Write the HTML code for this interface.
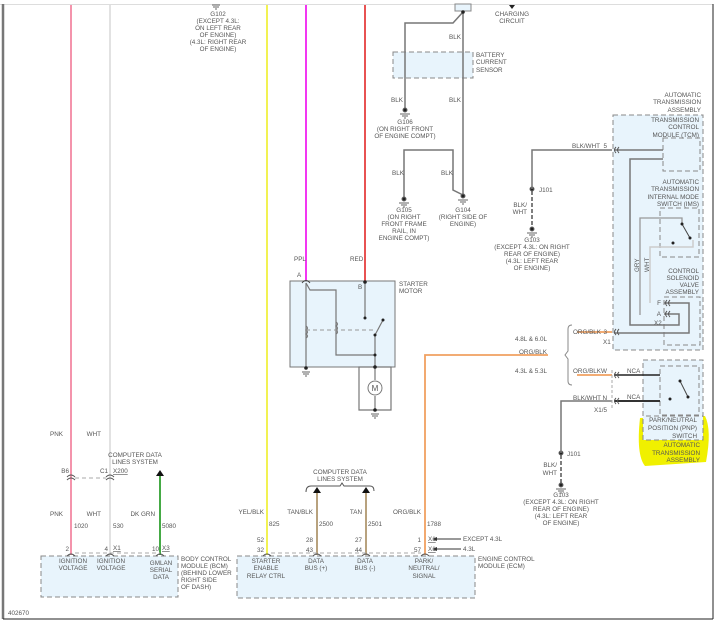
<!DOCTYPE html>
<html><head><meta charset="utf-8"><style>
html,body{margin:0;padding:0;background:#fff}
svg{display:block}
text{font-family:"Liberation Sans",sans-serif;font-size:6.3px;fill:#555}
.m{text-anchor:middle}.e{text-anchor:end}
.box{fill:#e8f4fc;stroke:#888;stroke-width:1;stroke-dasharray:5,3}
.w{fill:none;stroke:#777;stroke-width:1.5}
.d{fill:#222}
</style></head><body>
<svg width="721" height="623" viewBox="0 0 721 623" xmlns="http://www.w3.org/2000/svg">
<!-- frame -->
<line x1="0" y1="4.5" x2="713" y2="4.5" stroke="#ddd" stroke-width="1"/>
<line x1="3" y1="4" x2="3" y2="619" stroke="#777" stroke-width="2.5"/>
<line x1="3" y1="619" x2="713" y2="619" stroke="#222" stroke-width="1"/>
<line x1="713" y1="4" x2="713" y2="619" stroke="#222" stroke-width="1"/>

<!-- boxes -->
<rect class="box" x="393" y="52" width="80" height="26"/>
<rect x="290" y="281" width="105" height="86" fill="#e8f4fc" stroke="#777"/>
<rect class="box" x="613" y="115" width="90" height="235"/>
<rect class="box" x="663" y="138" width="37" height="33"/>
<rect class="box" x="660" y="208" width="39" height="49"/>
<rect class="box" x="664" y="297" width="36" height="48"/>
<path d="M640,418 L705,416 Q712,430 706,462 L645,466 Q636,455 640,418Z" fill="#f0f000"/>
<rect class="box" x="643" y="360" width="60" height="80" fill="none"/>
<rect class="box" x="643" y="360" width="60" height="56" />
<rect class="box" x="660" y="366" width="39" height="49"/>
<rect class="box" x="41" y="556" width="137" height="41"/>
<rect class="box" x="237" y="556" width="238" height="42"/>

<!-- long colored wires -->
<line x1="71" y1="5" x2="71" y2="555" stroke="#f07090" stroke-width="1.5"/>
<line x1="110" y1="5" x2="110" y2="555" stroke="#d8d8d8" stroke-width="1.5"/>
<line x1="267" y1="5" x2="267" y2="555" stroke="#f0f040" stroke-width="1.8"/>
<line x1="306" y1="5" x2="306" y2="281" stroke="#f020f0" stroke-width="1.8"/>
<line x1="365" y1="5" x2="365" y2="281" stroke="#e01818" stroke-width="1.5"/>
<line x1="160" y1="476" x2="160" y2="555" stroke="#30a030" stroke-width="1.8"/>
<line x1="317" y1="492" x2="317" y2="555" stroke="#b09870" stroke-width="1.8"/>
<line x1="366" y1="492" x2="366" y2="555" stroke="#b09870" stroke-width="1.8"/>
<path d="M548,355 H425 V555" fill="none" stroke="#f0a060" stroke-width="1.8"/>
<line x1="577" y1="332" x2="612" y2="332" stroke="#f0a060" stroke-width="1.8"/>
<line x1="577" y1="375" x2="612" y2="375" stroke="#f0a060" stroke-width="1.8"/>
<path d="M572,325 q-4,0 -4,4 v22 l-3,4 l3,4 v22 q0,4 4,4" fill="none" stroke="#888"/>

<!-- G102 -->
<path d="M212,5 h8 M213,7 h6 M215,9 h2" stroke="#666"/>

<!-- top grounds -->
<rect x="455" y="4" width="16" height="7" fill="#e8f4fc" stroke="#888"/>
<path class="w" d="M463,12 V195"/>
<path class="w" d="M463,12 L453,23 H405 V110"/>
<path class="w" d="M404,200 V150 H453 V190 L463,195"/>
<circle class="d" cx="463" cy="12" r="1.8"/>
<path d="M509,5 h6 l-3,4z" fill="#222"/>
<g fill="#222" stroke="#666">
<circle cx="405" cy="110" r="2"/><path d="M400,114h10M402,116h6M404,118h2" fill="none"/>
<circle cx="404" cy="199" r="2"/><path d="M399,203h10M401,205h6M403,207h2" fill="none"/>
<circle cx="463" cy="196" r="2"/><path d="M458,200h10M460,202h6M462,204h2" fill="none"/>
<circle cx="532" cy="189" r="2"/>
<circle cx="532" cy="229" r="2"/><path d="M527,233h10M529,235h6M531,237h2" fill="none"/>
<circle cx="561" cy="453" r="2"/>
<circle cx="561" cy="485" r="2"/><path d="M556,489h10M558,491h6M560,493h2" fill="none"/>
</g>
<path class="w" d="M532,189 V150 H612"/>
<line x1="532" y1="191" x2="532" y2="227" stroke="#555" stroke-width="1.5" stroke-dasharray="4,2"/>
<path class="w" d="M561,453 V401 H612"/>
<line x1="561" y1="455" x2="561" y2="483" stroke="#555" stroke-width="1.5" stroke-dasharray="4,2"/>
<line x1="612" y1="370" x2="612" y2="410" stroke="#aaa" stroke-dasharray="3,2"/>

<!-- transmission internals -->
<path class="w" d="M614,150 H663"/>
<path class="w" d="M663,159 H630 V325 H679 V314 H664"/>
<path class="w" d="M614,333 H689 V303 H664" />
<path d="M640,315 V218 H682 V224" fill="none" stroke="#999" stroke-width="1.3"/>
<path d="M650,303 V247 H693 V240" fill="none" stroke="#ccc" stroke-width="1.5"/>
<path d="M682,224 L690,238" stroke="#444"/>
<circle class="d" cx="682" cy="224" r="1.5"/><circle class="d" cx="690" cy="238" r="1.5"/><circle class="d" cx="673" cy="243" r="1.5"/>
<path d="M614,375 H660" stroke="#222" stroke-width="1.5"/>
<path d="M614,401 H660" stroke="#333" stroke-width="2"/>
<path d="M680,381 L688,397" stroke="#444"/>
<circle class="d" cx="680" cy="381" r="1.5"/><circle class="d" cx="688" cy="397" r="1.5"/><circle class="d" cx="670" cy="399" r="1.5"/>
<g fill="none" stroke="#555">
<path d="M616,147 q-3,3 0,6 M619,147 q-3,3 0,6"/>
<path d="M616,329 q-3,3 0,6 M619,329 q-3,3 0,6"/>
<path d="M616,372 q-3,3 0,6 M619,372 q-3,3 0,6"/>
<path d="M616,398 q-3,3 0,6 M619,398 q-3,3 0,6"/>
<path d="M667,300 q-3,3 0,6 M670,300 q-3,3 0,6"/>
<path d="M667,311 q-3,3 0,6 M670,311 q-3,3 0,6"/>
</g>

<!-- starter motor -->
<g fill="none" stroke="#777" stroke-width="1.2">
<path d="M306,283 L310,290 H336 V355 H375"/>
<path d="M306,283 V368"/>
<path d="M365,283 V318"/>
<path d="M375,335 L383,320"/>
<path d="M375,335 V367 V380 M375,396 V410"/>
<path d="M375,367 H359 V410 H391 V367 H375"/>
<path d="M306,326 q3,2 0,4 q3,2 0,4 q3,2 0,4" />
<path d="M336,322 q3,2 0,4 q3,2 0,4 q3,2 0,4" />
</g>
<line x1="306" y1="330" x2="375" y2="330" stroke="#999" stroke-dasharray="4,3"/>
<circle cx="375" cy="388" r="7" fill="#fff" stroke="#777"/>
<text x="375" y="391" class="m" style="font-size:8px">M</text>
<g class="d"><circle cx="365" cy="282" r="1.8"/><circle cx="365" cy="318" r="1.5"/><circle cx="383" cy="320" r="1.5"/><circle cx="375" cy="335" r="1.5"/><circle cx="375" cy="355" r="1.5"/><circle cx="375" cy="367" r="1.8"/><circle cx="306" cy="368" r="1.8"/><circle cx="375" cy="410" r="1.8"/></g>
<path d="M302,372h8M303,374h6M305,376h2M371,414h8M372,416h6M374,418h2" stroke="#666"/>
<path d="M302,283 q4,-5 8,0" fill="none" stroke="#444"/>

<!-- connectors bottom -->
<g fill="none" stroke="#555">
<path d="M67,477 q4,-4 8,0 M67,480 q4,-4 8,0"/>
<path d="M106,477 q4,-4 8,0 M106,480 q4,-4 8,0"/>
<path d="M67,556 q4,-4 8,0 M106,556 q4,-4 8,0 M156,556 q4,-4 8,0 M263,556 q4,-4 8,0 M313,556 q4,-4 8,0 M362,556 q4,-4 8,0 M421,556 q4,-4 8,0"/>
<path d="M306,492 q0,-6 5,-6 H340 l2,-3 l2,3 H370 q4,0 4,5"/>
</g>
<line x1="75" y1="478" x2="106" y2="478" stroke="#aaa" stroke-dasharray="4,3"/>
<line x1="75" y1="553" x2="160" y2="553" stroke="#aaa" stroke-dasharray="4,3"/>
<line x1="271" y1="553" x2="421" y2="553" stroke="#aaa" stroke-dasharray="4,3"/>
<path d="M156,476 l4,-6 l4,6z M313,493 l4,-6 l4,6z M362,493 l4,-6 l4,6z" fill="#111"/>
<path d="M436,539 H461 M436,549 H461" stroke="#333"/>
<path d="M432,539 l5,-2 v4z M432,549 l5,-2 v4z" fill="#333"/>

<!-- labels -->
<g>
<text x="218" y="16" class="m">G102</text><text x="218" y="23" class="m">(EXCEPT 4.3L:</text><text x="218" y="30" class="m">ON LEFT REAR</text><text x="218" y="37" class="m">OF ENGINE)</text><text x="218" y="44" class="m">(4.3L: RIGHT REAR</text><text x="218" y="51" class="m">OF ENGINE)</text>
<text x="512" y="16" class="m">CHARGING</text><text x="512" y="23" class="m">CIRCUIT</text>
<text x="455" y="39" class="m">BLK</text>
<text x="476" y="57">BATTERY</text><text x="476" y="64">CURRENT</text><text x="476" y="72">SENSOR</text>
<text x="397" y="102" class="m">BLK</text><text x="455" y="102" class="m">BLK</text>
<text x="405" y="124" class="m">G106</text><text x="405" y="131" class="m">(ON RIGHT FRONT</text><text x="405" y="138" class="m">OF ENGINE COMPT)</text>
<text x="398" y="175" class="m">BLK</text><text x="447" y="175" class="m">BLK</text>
<text x="404" y="212" class="m">G105</text><text x="404" y="219" class="m">(ON RIGHT</text><text x="404" y="226" class="m">FRONT FRAME</text><text x="404" y="233" class="m">RAIL, IN</text><text x="404" y="240" class="m">ENGINE COMPT)</text>
<text x="463" y="212" class="m">G104</text><text x="463" y="219" class="m">(RIGHT SIDE OF</text><text x="463" y="226" class="m">ENGINE)</text>
<text x="701" y="97" class="e">AUTOMATIC</text><text x="701" y="104" class="e">TRANSMISSION</text><text x="701" y="112" class="e">ASSEMBLY</text>
<text x="699" y="122" class="e">TRANSMISSION</text><text x="699" y="129" class="e">CONTROL</text><text x="699" y="137" class="e">MODULE (TCM)</text>
<text x="572" y="148">BLK/WHT</text><text x="607" y="148" class="e">5</text>
<text x="539" y="192">J101</text>
<text x="527" y="207" class="e">BLK/</text><text x="527" y="214" class="e">WHT</text>
<text x="532" y="242" class="m">G103</text><text x="532" y="249" class="m">(EXCEPT 4.3L: ON RIGHT</text><text x="532" y="256" class="m">REAR OF ENGINE)</text><text x="532" y="263" class="m">(4.3L: LEFT REAR</text><text x="532" y="270" class="m">OF ENGINE)</text>
<text x="699" y="184" class="e">AUTOMATIC</text><text x="699" y="191" class="e">TRANSMISSION</text><text x="699" y="199" class="e">INTERNAL MODE</text><text x="699" y="206" class="e">SWITCH (IMS)</text>
<text x="699" y="273" class="e">CONTROL</text><text x="699" y="280" class="e">SOLENOID</text><text x="699" y="287" class="e">VALVE</text><text x="699" y="294" class="e">ASSEMBLY</text>
<text x="639" y="272" transform="rotate(-90 639 272)">GRY</text><text x="649" y="272" transform="rotate(-90 649 272)">WHT</text>
<text x="661" y="305" class="e">F</text><text x="661" y="316" class="e">A</text><text x="654" y="325">X2</text>
<text x="294" y="261">PPL</text><text x="350" y="261">RED</text>
<text x="297" y="277">A</text><text x="358" y="289">B</text>
<text x="399" y="286">STARTER</text><text x="399" y="293">MOTOR</text>
<text x="547" y="341" class="e">4.8L &amp; 6.0L</text>
<text x="547" y="354" class="e">ORG/BLK</text>
<text x="547" y="373" class="e">4.3L &amp; 5.3L</text>
<text x="573" y="334">ORG/BLK</text><text x="607" y="334" class="e">3</text><text x="603" y="344">X1</text>
<text x="573" y="373">ORG/BLK</text><text x="607" y="373" class="e">W</text>
<text x="573" y="400">BLK/WHT</text><text x="607" y="400" class="e">N</text><text x="594" y="412">X1/5</text>
<text x="627" y="373">NCA</text><text x="627" y="399">NCA</text>
<text x="697" y="422" class="e">PARK/NEUTRAL</text><text x="697" y="430" class="e">POSITION (PNP)</text><text x="697" y="438" class="e">SWITCH</text>
<text x="700" y="447" class="e">AUTOMATIC</text><text x="700" y="455" class="e">TRANSMISSION</text><text x="700" y="462" class="e">ASSEMBLY</text>
<text x="567" y="456">J101</text>
<text x="557" y="467" class="e">BLK/</text><text x="557" y="475" class="e">WHT</text>
<text x="561" y="497" class="m">G103</text><text x="561" y="504" class="m">(EXCEPT 4.3L: ON RIGHT</text><text x="561" y="511" class="m">REAR OF ENGINE)</text><text x="561" y="518" class="m">(4.3L: LEFT REAR</text><text x="561" y="525" class="m">OF ENGINE)</text>
<text x="63" y="436" class="e">PNK</text><text x="101" y="436" class="e">WHT</text>
<text x="135" y="457" class="m">COMPUTER DATA</text><text x="135" y="464" class="m">LINES SYSTEM</text>
<text x="69" y="473" class="e">B6</text><text x="108" y="473" class="e">C1</text><text x="113" y="473" style="text-decoration:underline">X200</text>
<text x="63" y="516" class="e">PNK</text><text x="101" y="516" class="e">WHT</text><text x="155" y="516" class="e">DK GRN</text>
<text x="74" y="528">1020</text><text x="113" y="528">530</text><text x="162" y="528">5080</text>
<text x="69" y="551" class="e">2</text><text x="108" y="551" class="e">4</text><text x="113" y="550" style="text-decoration:underline">X1</text>
<text x="159" y="551" class="e">10</text><text x="162" y="550" style="text-decoration:underline">X3</text>
<text x="73" y="563" class="m">IGNITION</text><text x="73" y="570" class="m">VOLTAGE</text>
<text x="111" y="563" class="m">IGNITION</text><text x="111" y="570" class="m">VOLTAGE</text>
<text x="161" y="565" class="m">GMLAN</text><text x="161" y="572" class="m">SERIAL</text><text x="161" y="579" class="m">DATA</text>
<text x="181" y="561">BODY CONTROL</text><text x="181" y="568">MODULE (BCM)</text><text x="181" y="575">(BEHIND LOWER</text><text x="181" y="582">RIGHT SIDE</text><text x="181" y="589">OF DASH)</text>
<text x="340" y="474" class="m">COMPUTER DATA</text><text x="340" y="481" class="m">LINES SYSTEM</text>
<text x="264" y="514" class="e">YEL/BLK</text><text x="313" y="514" class="e">TAN/BLK</text><text x="362" y="514" class="e">TAN</text><text x="421" y="514" class="e">ORG/BLK</text>
<text x="269" y="526">825</text><text x="319" y="526">2500</text><text x="368" y="526">2501</text><text x="427" y="526">1788</text>
<text x="264" y="542" class="e">52</text><text x="313" y="542" class="e">28</text><text x="362" y="542" class="e">27</text><text x="421" y="542" class="e">1</text>
<text x="264" y="552" class="e">32</text><text x="313" y="552" class="e">43</text><text x="362" y="552" class="e">44</text><text x="421" y="552" class="e">57</text>
<text x="428" y="541" style="text-decoration:underline">X1</text><text x="428" y="551" style="text-decoration:underline">X1</text>
<text x="463" y="541">EXCEPT 4.3L</text><text x="463" y="551">4.3L</text>
<text x="266" y="563" class="m">STARTER</text><text x="266" y="570" class="m">ENABLE</text><text x="266" y="578" class="m">RELAY CTRL</text>
<text x="316" y="563" class="m">DATA</text><text x="316" y="570" class="m">BUS (+)</text>
<text x="365" y="563" class="m">DATA</text><text x="365" y="570" class="m">BUS (-)</text>
<text x="424" y="563" class="m">PARK/</text><text x="424" y="570" class="m">NEUTRAL/</text><text x="424" y="578" class="m">SIGNAL</text>
<text x="478" y="561">ENGINE CONTROL</text><text x="478" y="568">MODULE (ECM)</text>
<text x="8" y="615">402670</text>
</g>
</svg>
</body></html>
